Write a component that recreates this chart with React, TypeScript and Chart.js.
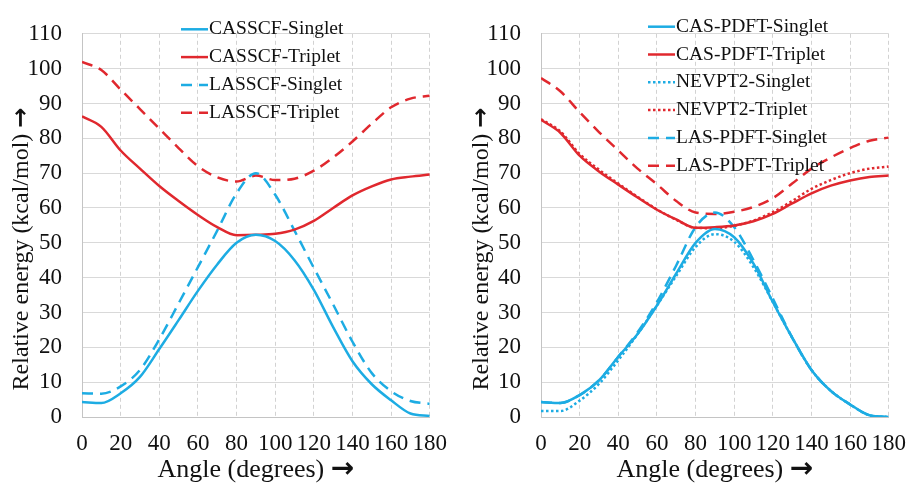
import { useEffect, useRef } from "react";
import { Chart, registerables, type ChartConfiguration, type Plugin } from "chart.js";

Chart.register(...registerables);

// angles (degrees) shared by every curve
const ANGLES = [0, 10, 20, 30, 40, 50, 60, 70, 80, 90, 100, 110, 120, 130, 140, 150, 160, 170, 180];

// left panel
const CASSCF_SINGLET = [4.3, 4.0, 6.8, 11.5, 19.5, 27.8, 36.2, 43.8, 50.0, 52.3, 50.5, 45.0, 36.5, 25.8, 16.0, 9.4, 4.8, 1.0, 0.3];
const CASSCF_TRIPLET = [86.3, 83.3, 76.5, 71.3, 66.3, 62.0, 58.0, 54.5, 52.2, 52.3, 52.6, 53.8, 56.3, 60.0, 63.6, 66.2, 68.2, 69.0, 69.6];
const LASSCF_SINGLET = [6.8, 6.7, 8.8, 13.5, 22.3, 32.6, 43.0, 53.5, 64.2, 70.0, 63.8, 53.5, 42.8, 32.3, 21.6, 12.6, 7.4, 4.6, 3.8];
const LASSCF_TRIPLET = [101.9, 99.6, 94.0, 88.4, 82.8, 77.2, 72.0, 68.8, 67.6, 69.3, 68.0, 68.4, 70.7, 74.5, 79.1, 84.2, 88.9, 91.4, 92.2];

// right panel
const CAS_PDFT_SINGLET = [4.3, 4.0, 6.3, 10.5, 17.3, 23.8, 32.0, 41.2, 50.0, 54.0, 51.6, 44.0, 33.0, 22.8, 13.5, 7.5, 3.6, 0.5, 0.0];
const CAS_PDFT_TRIPLET = [85.3, 81.6, 75.0, 70.5, 66.7, 63.0, 59.5, 56.7, 54.3, 54.5, 55.0, 56.2, 58.3, 61.3, 64.2, 66.4, 67.9, 68.9, 69.3];
const NEVPT2_SINGLET = [1.7, 1.7, 4.7, 9.5, 16.3, 23.8, 32.0, 40.5, 48.8, 52.5, 50.3, 43.0, 33.0, 22.8, 13.5, 7.5, 3.6, 0.5, 0.0];
const NEVPT2_TRIPLET = [85.5, 82.0, 75.5, 71.0, 67.0, 63.2, 59.6, 56.6, 54.3, 54.2, 54.9, 56.4, 58.8, 62.0, 65.5, 68.0, 70.0, 71.3, 71.9];
const LAS_PDFT_SINGLET = [4.3, 4.0, 6.3, 10.5, 17.3, 24.3, 33.0, 43.5, 54.5, 58.7, 54.5, 45.0, 34.0, 22.8, 13.5, 7.5, 3.6, 0.5, 0.0];
const LAS_PDFT_TRIPLET = [97.3, 93.5, 87.5, 81.8, 76.5, 71.3, 66.8, 62.0, 58.7, 58.3, 58.9, 60.3, 62.8, 67.0, 71.3, 74.5, 77.2, 79.3, 80.2];

const X_TICK_STEP = 20;
const Y_TICK_STEP = 10;
const X_TITLE = "Angle (degrees) ";
const Y_TITLE = "Relative energy (kcal/mol) ";
const ARROW = "\u2192";

const BLUE = "#1DACE3";
const RED = "#E0282E";
const INK = "#111";
const FONT = "'Liberation Serif', 'Times New Roman', serif";
const SOLID: number[] = [];
const DASHED = [11, 7];
const DOTTED = [2.5, 2.5];

type Series = { label: string; values: number[]; color: string; dash: number[] };

const LEFT_SERIES: Series[] = [
  { label: "CASSCF-Singlet", values: CASSCF_SINGLET, color: BLUE, dash: SOLID },
  { label: "CASSCF-Triplet", values: CASSCF_TRIPLET, color: RED, dash: SOLID },
  { label: "LASSCF-Singlet", values: LASSCF_SINGLET, color: BLUE, dash: DASHED },
  { label: "LASSCF-Triplet", values: LASSCF_TRIPLET, color: RED, dash: DASHED },
];

const RIGHT_SERIES: Series[] = [
  { label: "CAS-PDFT-Singlet", values: CAS_PDFT_SINGLET, color: BLUE, dash: SOLID },
  { label: "CAS-PDFT-Triplet", values: CAS_PDFT_TRIPLET, color: RED, dash: SOLID },
  { label: "NEVPT2-Singlet", values: NEVPT2_SINGLET, color: BLUE, dash: DOTTED },
  { label: "NEVPT2-Triplet", values: NEVPT2_TRIPLET, color: RED, dash: DOTTED },
  { label: "LAS-PDFT-Singlet", values: LAS_PDFT_SINGLET, color: BLUE, dash: DASHED },
  { label: "LAS-PDFT-Triplet", values: LAS_PDFT_TRIPLET, color: RED, dash: DASHED },
];

// draws "text →" centred on (0,0) of the current transform, arrow in a heavier font
function titleWithArrow(ctx: CanvasRenderingContext2D, text: string, size: number, arrowSize: number) {
  const arrowFont = `bold ${arrowSize}px 'DejaVu Sans', sans-serif`;
  ctx.font = `${size}px ${FONT}`;
  const w1 = ctx.measureText(text).width;
  ctx.font = arrowFont;
  const w2 = ctx.measureText(ARROW).width;
  const x0 = -(w1 + w2) / 2;
  ctx.textAlign = "left";
  ctx.textBaseline = "middle";
  ctx.font = `${size}px ${FONT}`;
  ctx.fillText(text, x0, 0);
  ctx.font = arrowFont;
  ctx.fillText(ARROW, x0 + w1, 0);
}

// axis titles + legend drawn inside the plot area
const overlay: Plugin<"line"> = {
  id: "overlay",
  afterDraw(chart, _args, opts: any) {
    const { ctx, chartArea } = chart;
    ctx.save();
    ctx.fillStyle = INK;
    ctx.translate(opts.yTitleX, opts.yTitleY);
    ctx.rotate(-Math.PI / 2);
    titleWithArrow(ctx, Y_TITLE, 24, 24);
    ctx.restore();

    ctx.save();
    ctx.fillStyle = INK;
    ctx.translate((chartArea.left + chartArea.right) / 2, opts.xTitleY);
    titleWithArrow(ctx, X_TITLE, 26, 28);
    ctx.restore();

    ctx.save();
    ctx.font = `19.5px ${FONT}`;
    ctx.textAlign = "left";
    ctx.textBaseline = "middle";
    chart.data.datasets.forEach((ds: any, i) => {
      const y = opts.legendY + i * opts.legendGap;
      ctx.beginPath();
      ctx.setLineDash(ds.borderDash || []);
      ctx.strokeStyle = ds.borderColor;
      ctx.lineWidth = 2.5;
      ctx.moveTo(opts.legendX, y);
      ctx.lineTo(opts.legendX + 27, y);
      ctx.stroke();
      ctx.setLineDash([]);
      ctx.fillStyle = INK;
      ctx.fillText(ds.label, opts.legendX + 28, y);
    });
    ctx.restore();
  },
};

interface PanelProps {
  series: Series[];
  left: number;
  width: number;
  plotTop: number;
  plotLeft: number;
  rightPad: number;
  legendX: number;
  legendY: number;
}

function Panel({ series, left, width, plotTop, plotLeft, rightPad, legendX, legendY }: PanelProps) {
  const canvasRef = useRef<HTMLCanvasElement>(null);

  useEffect(() => {
    if (!canvasRef.current) return;
    const tickFont = { family: FONT, size: 23 };
    const config: ChartConfiguration<"line"> = {
      type: "line",
      data: {
        datasets: series.map((s) => ({
          label: s.label,
          data: ANGLES.map((a, i) => ({ x: a, y: s.values[i] })),
          borderColor: s.color,
          backgroundColor: s.color,
          borderDash: s.dash,
          borderWidth: 2.5,
          pointRadius: 0,
          cubicInterpolationMode: "monotone",
          fill: false,
        })),
      },
      options: {
        animation: false,
        responsive: false,
        layout: { padding: { left: 0, top: plotTop, right: rightPad, bottom: 0 } },
        plugins: {
          legend: { display: false },
          tooltip: { enabled: false },
          // @ts-ignore custom plugin options
          overlay: { yTitleX: 22, yTitleY: 249, xTitleY: 470, legendX, legendY, legendGap: 27.8 },
        },
        scales: {
          x: {
            type: "linear",
            min: 0,
            max: 180,
            ticks: {
              stepSize: X_TICK_STEP,
              padding: 13,
              color: INK,
              font: tickFont,
              autoSkip: false,
              maxRotation: 0,
              minRotation: 0,
            },
            grid: { color: "#d2d2d2", drawTicks: false },
            border: { color: "#c4c4c4", dash: [4, 3] },
            afterFit: (s: any) => {
              s.height = 69;
            },
          },
          y: {
            min: 0,
            max: 110,
            ticks: { stepSize: Y_TICK_STEP, padding: 20, color: INK, font: tickFont },
            grid: { color: "#d9d9d9", drawTicks: false },
            border: { color: "#c4c4c4" },
            afterFit: (s: any) => {
              s.width = plotLeft;
            },
          },
        },
      },
      plugins: [overlay],
    };
    const chart = new Chart(canvasRef.current, config);
    return () => chart.destroy();
  }, [series, plotTop, plotLeft, rightPad, legendX, legendY]);

  return (
    <canvas
      ref={canvasRef}
      width={width}
      height={486}
      style={{ position: "absolute", left, top: 0, width, height: 486 }}
    />
  );
}

export default function App() {
  return (
    <div style={{ position: "fixed", left: 0, top: 0, width: 919, height: 486, background: "#fff" }}>
      <Panel series={LEFT_SERIES} left={0} width={460} plotTop={23} plotLeft={82} rightPad={20} legendX={181} legendY={29.3} />
      <Panel series={RIGHT_SERIES} left={460} width={459} plotTop={27} plotLeft={81} rightPad={20} legendX={188} legendY={26.7} />
    </div>
  );
}
